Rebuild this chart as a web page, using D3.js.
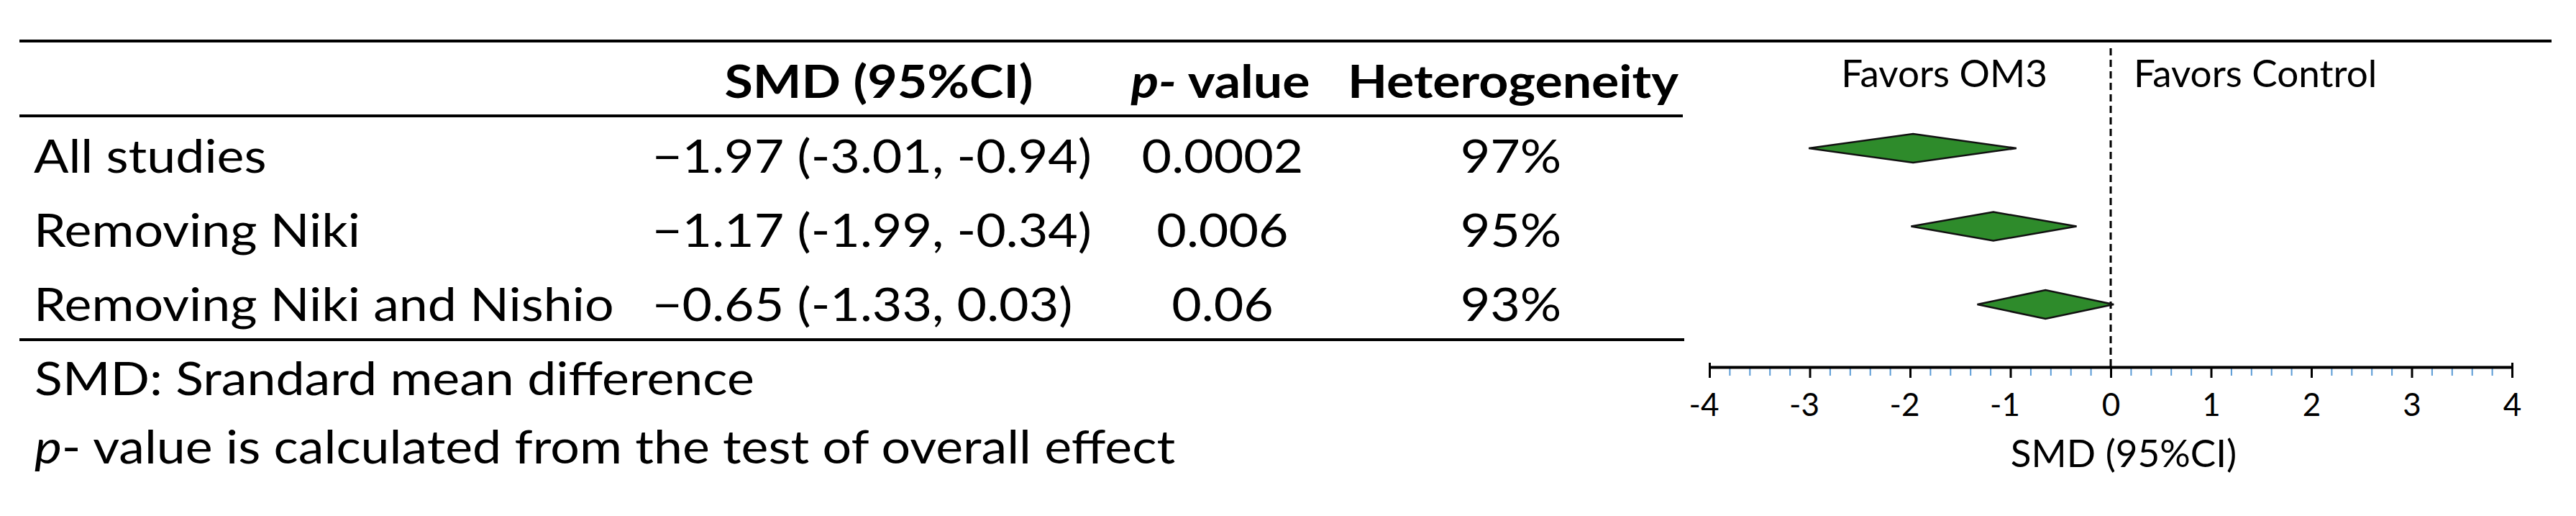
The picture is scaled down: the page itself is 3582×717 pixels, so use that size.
<!DOCTYPE html>
<html>
<head>
<meta charset="utf-8">
<script src="https://cdn.jsdelivr.net/npm/d3@7/dist/d3.min.js"></script>
<style>
  html, body { margin: 0; padding: 0; background: #fff; }
  svg { display: block; }
  text { font-family: Lato, "Open Sans", sans-serif; fill: #000; }
</style>
</head>
<body>
<svg id="chart" width="3582" height="717"></svg>
<script>
// ---------- data ----------
const categories = ["All studies", "Removing Niki", "Removing Niki and Nishio"];
const smd = [-1.97, -1.17, -0.65];
const ciLow = [-3.01, -1.99, -1.33];
const ciHigh = [-0.94, -0.34, 0.03];
const pValues = ["0.0002", "0.006", "0.06"];
const heterogeneity = ["97%", "95%", "93%"];
const axisTicks = [-4, -3, -2, -1, 0, 1, 2, 3, 4];
const axisTickLabels = ["-4", "-3", "-2", "-1", "0", "1", "2", "3", "4"];
const columnHeaders = ["SMD (95%CI)", "p- value", "Heterogeneity"];
const favorLabels = ["Favors OM3", "Favors Control"];
const axisTitle = "SMD (95%CI)";
const footnotes = ["SMD: Srandard mean difference", "p- value is calculated from the test of overall effect"];

// ---------- setup ----------
const svg = d3.select("#chart");
svg.append("rect").attr("width", 3582).attr("height", 717).attr("fill", "#fff");

const STRETCH = 1.12;   // horizontal widening of table text (Calibri-like proportions)
const TABLE_FS = 64;

function stretch(sel, k) {
  sel.each(function () {
    const len = this.getComputedTextLength();
    d3.select(this).attr("textLength", len * k).attr("lengthAdjust", "spacingAndGlyphs");
  });
}

const rows = categories.map((c, i) => ({
  cat: c, smd: smd[i], lo: ciLow[i], hi: ciHigh[i], p: pValues[i], h: heterogeneity[i]
}));

// ---------- scales ----------
const x = d3.scaleLinear().domain([-4, 4]).range([2377, 3493]);
const yRow = d3.scalePoint().domain(categories).range([240, 446]);       // table baselines
const yMark = d3.scalePoint().domain(categories).range([206, 423]);      // diamond centres

// ---------- rules ----------
const rules = svg.append("g").attr("stroke", "#000").attr("stroke-width", 4);
rules.append("line").attr("x1", 27).attr("x2", 3548).attr("y1", 57).attr("y2", 57);
rules.append("line").attr("x1", 27).attr("x2", 2340).attr("y1", 161).attr("y2", 161);
rules.append("line").attr("x1", 27).attr("x2", 2342).attr("y1", 472).attr("y2", 472);

// ---------- table header ----------
const hdr = svg.append("g").attr("font-weight", "bold").attr("font-size", TABLE_FS);
hdr.append("text").attr("x", 1222).attr("y", 136).attr("text-anchor", "middle").text(columnHeaders[0]);
const ph = hdr.append("text").attr("x", 1697).attr("y", 136).attr("text-anchor", "middle");
ph.append("tspan").attr("font-style", "italic").text(columnHeaders[1].slice(0, 2));
ph.append("tspan").text(columnHeaders[1].slice(2));
hdr.append("text").attr("x", 2104).attr("y", 136).attr("text-anchor", "middle").text(columnHeaders[2]);
stretch(hdr.selectAll("text"), STRETCH);

// ---------- table body ----------
const fmtLead = d => (d < 0 ? "\u2212" : "") + Math.abs(d).toFixed(2);
const fmtIn = d => d.toFixed(2);

const body = svg.append("g").attr("font-size", TABLE_FS);
const rg = body.selectAll("g.row").data(rows).join("g").attr("class", "row");
rg.append("text").attr("x", 47).attr("y", d => yRow(d.cat)).text(d => d.cat);
rg.append("text").attr("x", 907).attr("y", d => yRow(d.cat))
  .text(d => `${fmtLead(d.smd)} (${fmtIn(d.lo)}, ${fmtIn(d.hi)})`);
rg.append("text").attr("x", 1700).attr("y", d => yRow(d.cat)).attr("text-anchor", "middle").text(d => d.p);
rg.append("text").attr("x", 2101).attr("y", d => yRow(d.cat)).attr("text-anchor", "middle").text(d => d.h);
stretch(body.selectAll("text"), STRETCH);

// ---------- footnotes ----------
const fn = svg.append("g").attr("font-size", TABLE_FS);
fn.append("text").attr("x", 48).attr("y", 549).text(footnotes[0]);
const f2 = fn.append("text").attr("x", 48).attr("y", 644);
f2.append("tspan").attr("font-style", "italic").text(footnotes[1].slice(0, 1));
f2.append("tspan").text(footnotes[1].slice(1));
stretch(fn.selectAll("text"), STRETCH);

// ---------- forest panel ----------
svg.append("line")
  .attr("x1", x(0)).attr("x2", x(0)).attr("y1", 67).attr("y2", 510)
  .attr("stroke", "#000").attr("stroke-width", 3).attr("stroke-dasharray", "10,6");

svg.append("text").attr("x", 2847).attr("y", 121).attr("text-anchor", "end")
  .attr("font-size", 53).text(favorLabels[0]);
svg.append("text").attr("x", 2967).attr("y", 121)
  .attr("font-size", 53).text(favorLabels[1]);

const HALF = 20;
const diamond = d3.line();
svg.append("g").selectAll("path").data(rows).join("path")
  .attr("d", d => diamond([
    [x(d.lo), yMark(d.cat)],
    [x(d.smd), yMark(d.cat) - HALF],
    [x(d.hi), yMark(d.cat)],
    [x(d.smd), yMark(d.cat) + HALF]
  ]) + "Z")
  .attr("fill", "#2e8b2b").attr("stroke", "#111").attr("stroke-width", 2.5)
  .attr("stroke-linejoin", "miter");

// minor ticks
const minorVals = d3.range(-40, 41, 2).map(v => v / 10).filter(v => Math.abs(v - Math.round(v)) > 1e-9);
const minorAxis = svg.append("g").attr("transform", "translate(0,510)")
  .call(d3.axisBottom(x).tickValues(minorVals).tickSize(12).tickSizeOuter(0).tickFormat(""));
minorAxis.select(".domain").remove();
minorAxis.selectAll(".tick line").attr("stroke", "#5b9bd5").attr("stroke-width", 2);

// major axis
const majorAxis = svg.append("g").attr("transform", "translate(0,510)")
  .call(d3.axisBottom(x).tickValues(axisTicks).tickSize(15).tickSizeOuter(0)
    .tickFormat((d, i) => axisTickLabels[i]));
majorAxis.select(".domain").attr("stroke", "#000").attr("stroke-width", 4);
majorAxis.selectAll(".tick line").attr("stroke", "#000").attr("stroke-width", 3)
  .attr("y1", d => (d === -4 || d === 4) ? -6 : 0);
majorAxis.selectAll(".tick text")
  .attr("y", 68).attr("dy", null)
  .attr("dx", d => d < 0 ? -8 : 0)
  .attr("font-size", 44).attr("font-family", "Lato, sans-serif").attr("fill", "#000");

svg.append("text").attr("x", 2953).attr("y", 649).attr("text-anchor", "middle")
  .attr("font-size", 53).text(axisTitle);
</script>
</body>
</html>
